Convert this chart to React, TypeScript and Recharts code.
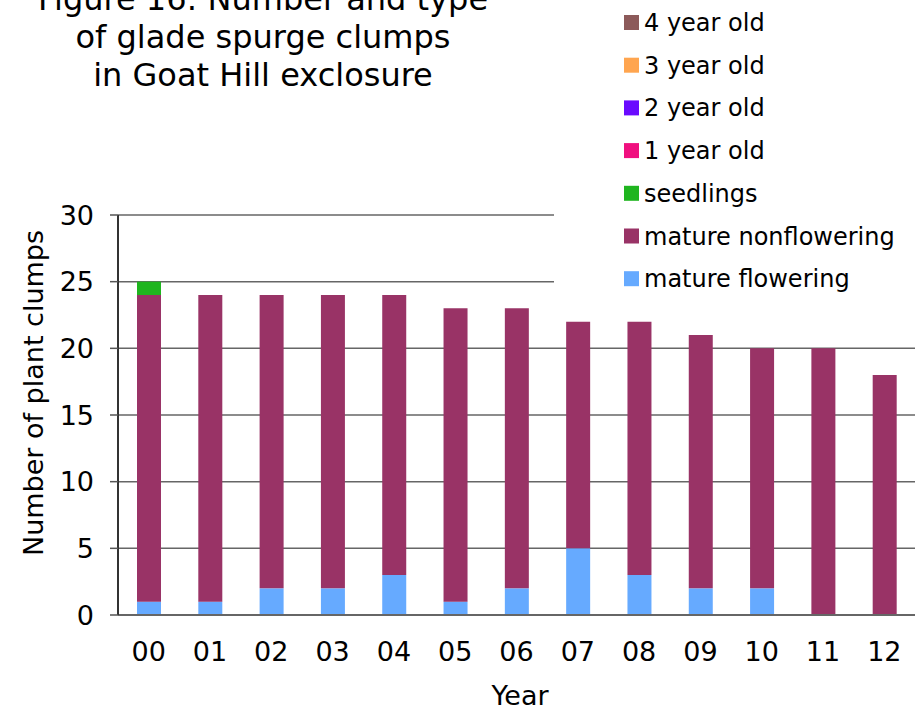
import { BarChart, Bar, CartesianGrid, XAxis, YAxis, Legend } from "recharts";

const years = ["00", "01", "02", "03", "04", "05", "06", "07", "08", "09", "10", "11", "12"];
const matureFlowering = [1, 1, 2, 2, 3, 1, 2, 5, 3, 2, 2, 0, 0];
const matureNonflowering = [23, 23, 22, 22, 21, 22, 21, 17, 19, 19, 18, 20, 18];
const seedlings = [1, 0, 0, 0, 0, 0, 0, 0, 0, 0, 0, 0, 0];
const oneYearOld = [0, 0, 0, 0, 0, 0, 0, 0, 0, 0, 0, 0, 0];
const twoYearOld = [0, 0, 0, 0, 0, 0, 0, 0, 0, 0, 0, 0, 0];
const threeYearOld = [0, 0, 0, 0, 0, 0, 0, 0, 0, 0, 0, 0, 0];
const fourYearOld = [0, 0, 0, 0, 0, 0, 0, 0, 0, 0, 0, 0, 0];
const yTicks = [0, 5, 10, 15, 20, 25, 30];
const titleLines = ["Figure 16: Number and type", "of glade spurge clumps", "in Goat Hill exclosure"];
const legendOrder = [
  "4 year old",
  "3 year old",
  "2 year old",
  "1 year old",
  "seedlings",
  "mature nonflowering",
  "mature flowering",
];

const rows = years.map((year, i) => ({
  year,
  flowering: matureFlowering[i],
  nonflowering: matureNonflowering[i],
  seedlings: seedlings[i],
  one: oneYearOld[i],
  two: twoYearOld[i],
  three: threeYearOld[i],
  four: fourYearOld[i],
}));

// tick marks between categories sit on a hidden numeric axis
const edges = years.map((_, i) => i).concat(years.length);

const FONT = "'DejaVu Sans', Verdana, sans-serif";

function LegendBox({ payload }: any) {
  const items = [...(payload || [])].sort(
    (a: any, b: any) => legendOrder.indexOf(a.value) - legendOrder.indexOf(b.value)
  );
  return (
    <svg width={363} height={308} style={{ display: "block", background: "#fff" }}>
      {items.map((p: any, i: number) => (
        <g key={p.value}>
          <rect x={70} y={15 + i * 42.7} width={15} height={15} fill={p.color} />
          <text x={90} y={31 + i * 42.7} fontSize={24} fontFamily={FONT} fill="#000">
            {p.value}
          </text>
        </g>
      ))}
    </svg>
  );
}

export default function App() {
  return (
    <div style={{ position: "absolute", left: 0, top: 0, width: 917, height: 710, fontFamily: FONT, background: "#fff" }}>
      <BarChart width={917} height={710} data={rows} margin={{ top: 215, right: 2, bottom: 0, left: 0 }} barSize={24}>
        <CartesianGrid vertical={false} stroke="#666" strokeWidth={1.5} />
        <XAxis
          xAxisId="edge"
          type="number"
          domain={[0, years.length]}
          ticks={edges}
          tick={false}
          tickSize={8}
          height={0}
          axisLine={false}
          tickLine={{ stroke: "#555", strokeWidth: 1.5 }}
          allowDataOverflow
        />
        <XAxis
          dataKey="year"
          height={95}
          tickLine={false}
          tickSize={0}
          tickMargin={27}
          tick={{ fontSize: 27, fill: "#000" }}
          axisLine={{ stroke: "#666", strokeWidth: 2 }}
          label={{
            content: () => (
              <text x={520} y={705} textAnchor="middle" fontSize={27} fontFamily={FONT} fill="#000">
                Year
              </text>
            ),
          }}
        />
        <YAxis
          width={118}
          domain={[0, 30]}
          ticks={yTicks}
          interval={0}
          tickSize={8}
          tickMargin={16}
          tick={{ fontSize: 27, fill: "#000" }}
          axisLine={{ stroke: "#333", strokeWidth: 2 }}
          tickLine={{ stroke: "#555", strokeWidth: 1.5 }}
          label={{
            content: () => (
              <text
                x={43}
                y={393}
                transform="rotate(-90, 43, 393)"
                textAnchor="middle"
                fontSize={27}
                fontFamily={FONT}
                fill="#000"
              >
                Number of plant clumps
              </text>
            ),
          }}
        />
        <YAxis
          yAxisId="right"
          orientation="right"
          width={0}
          domain={[0, 30]}
          tick={false}
          tickLine={false}
          axisLine={{ stroke: "#888", strokeWidth: 2 }}
        />
        <Legend
          layout="vertical"
          align="center"
          verticalAlign="middle"
          content={<LegendBox />}
          wrapperStyle={{ left: 554, top: 0, width: 363, height: 308, background: "#fff" }}
        />
        <Bar dataKey="flowering" name="mature flowering" stackId="a" fill="#66AAFF" isAnimationActive={false} />
        <Bar dataKey="nonflowering" name="mature nonflowering" stackId="a" fill="#993366" isAnimationActive={false} />
        <Bar dataKey="seedlings" name="seedlings" stackId="a" fill="#1FB51F" isAnimationActive={false} />
        <Bar dataKey="one" name="1 year old" stackId="a" fill="#F0107F" isAnimationActive={false} />
        <Bar dataKey="two" name="2 year old" stackId="a" fill="#6A0AFF" isAnimationActive={false} />
        <Bar dataKey="three" name="3 year old" stackId="a" fill="#FFA54F" isAnimationActive={false} />
        <Bar dataKey="four" name="4 year old" stackId="a" fill="#8C5A5A" isAnimationActive={false} />
      </BarChart>
      <svg width={553} height={100} style={{ position: "absolute", left: 0, top: 0 }}>
        {titleLines.map((line, i) => (
          <text key={line} x={263} y={10 + i * 38} textAnchor="middle" fontSize={32} fontFamily={FONT} fill="#000">
            {line}
          </text>
        ))}
      </svg>
    </div>
  );
}
